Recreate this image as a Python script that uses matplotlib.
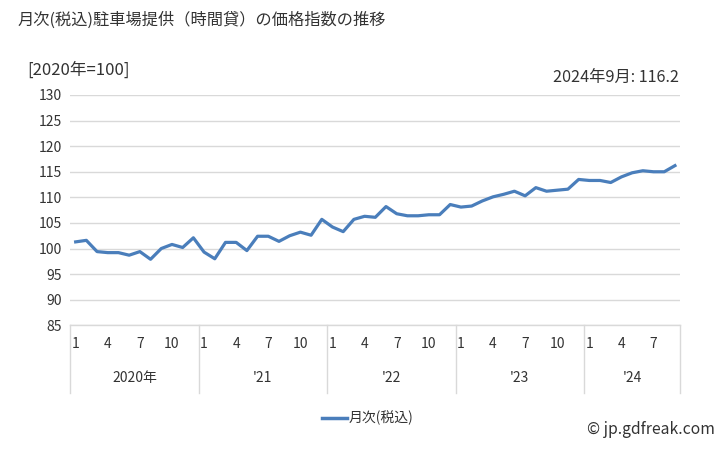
import matplotlib
matplotlib.use("Agg")
import matplotlib.pyplot as plt
import matplotlib.transforms as mtransforms

plt.rcParams['font.family'] = ['Noto Sans CJK JP', 'DejaVu Sans']

title = "月次(税込)駐車場提供（時間貸）の価格指数の推移"
unit_label = "[2020年=100]"
latest_label = "2024年9月: 116.2"
series_name = "月次(税込)"
credit = "© jp.gdfreak.com"

year_labels = ["2020年", "'21", "'22", "'23", "'24"]
months_per_year = [12, 12, 12, 12, 9]
month_tick_labels = ["1", "4", "7", "10"]

values = [
    101.3, 101.6, 99.4, 99.2, 99.2, 98.7, 99.4, 97.9, 100.0, 100.8, 100.2, 102.1,
    99.3, 98.0, 101.2, 101.2, 99.6, 102.4, 102.4, 101.4, 102.5, 103.2, 102.6, 105.7,
    104.2, 103.3, 105.7, 106.3, 106.1, 108.2, 106.8, 106.4, 106.4, 106.6, 106.6, 108.6,
    108.1, 108.3, 109.3, 110.1, 110.6, 111.2, 110.3, 111.9, 111.2, 111.4, 111.6, 113.5,
    113.3, 113.3, 112.9, 114.0, 114.8, 115.2, 115.0, 115.0, 116.2,
]
y_ticks = [85, 90, 95, 100, 105, 110, 115, 120, 125, 130]

W, H = 728, 450
fig = plt.figure(figsize=(W / 100, H / 100), dpi=100)
ax_left, ax_right, ax_top, ax_bottom = 70.3, 680.3, 95.0, 325.3
ax = fig.add_axes([ax_left / W, 1 - ax_bottom / H, (ax_right - ax_left) / W, (ax_bottom - ax_top) / H])

line_color = "#4a7ebb"
grid_color = "#d9d9d9"
text_color = "#333333"
x = list(range(len(values)))
ax.plot(x, values, color=line_color, lw=2.3, solid_joinstyle="round", zorder=3)

ax.set_xlim(-0.5, len(values) - 0.5)
ax.set_ylim(85, 130)
ax.set_yticks(y_ticks)
ax.set_yticklabels([str(v) for v in y_ticks], fontsize=10, color=text_color)
ax.tick_params(axis="y", length=0, pad=6)
ax.set_xticks([])
for s in ["top", "right", "left"]:
    ax.spines[s].set_visible(False)
ax.spines["bottom"].set_color(grid_color)
ax.spines["bottom"].set_linewidth(1)
ax.grid(axis="y", color=grid_color, lw=1)
ax.set_axisbelow(True)

# category axis below
trans = mtransforms.blended_transform_factory(ax.transData, ax.transAxes)
axh = ax_bottom - ax_top
y_line_end = -(392.7 - ax_bottom) / axh
y_month = -(344 - ax_bottom) / axh
y_year = -(378 - ax_bottom) / axh

start = 0
boundaries = [-0.5]
for yl, n in zip(year_labels, months_per_year):
    for lab in month_tick_labels:
        m = int(lab)
        if m <= n:
            ax.text(start + m - 1, y_month, lab, transform=trans, ha="center", va="center",
                    fontsize=10, color=text_color)
    ax.text(start + (n - 1) / 2, y_year, yl, transform=trans, ha="center", va="center",
            fontsize=10, color=text_color)
    start += n
    boundaries.append(start - 0.5)
for b in boundaries:
    ax.plot([b, b], [0, y_line_end], transform=trans, color=grid_color, lw=1, clip_on=False)

fig.text(18 / W, 1 - 20 / H, title, ha="left", va="center", fontsize=11.7, color=text_color)
fig.text(27 / W, 1 - 70 / H, unit_label, ha="left", va="center", fontsize=12, color=text_color)
fig.text(679 / W, 1 - 77 / H, latest_label, ha="right", va="center", fontsize=11.7, color=text_color)

# legend
ly = 1 - 418 / H
fig.add_artist(plt.Line2D([322 / W, 347 / W], [ly, ly], color=line_color, lw=2.5))
fig.text(349 / W, ly, series_name, ha="left", va="center", fontsize=10, color=text_color)
fig.text(715 / W, 1 - 430 / H, credit, ha="right", va="center", fontsize=11.3, color=text_color)

fig.savefig("out.png", dpi=100)
